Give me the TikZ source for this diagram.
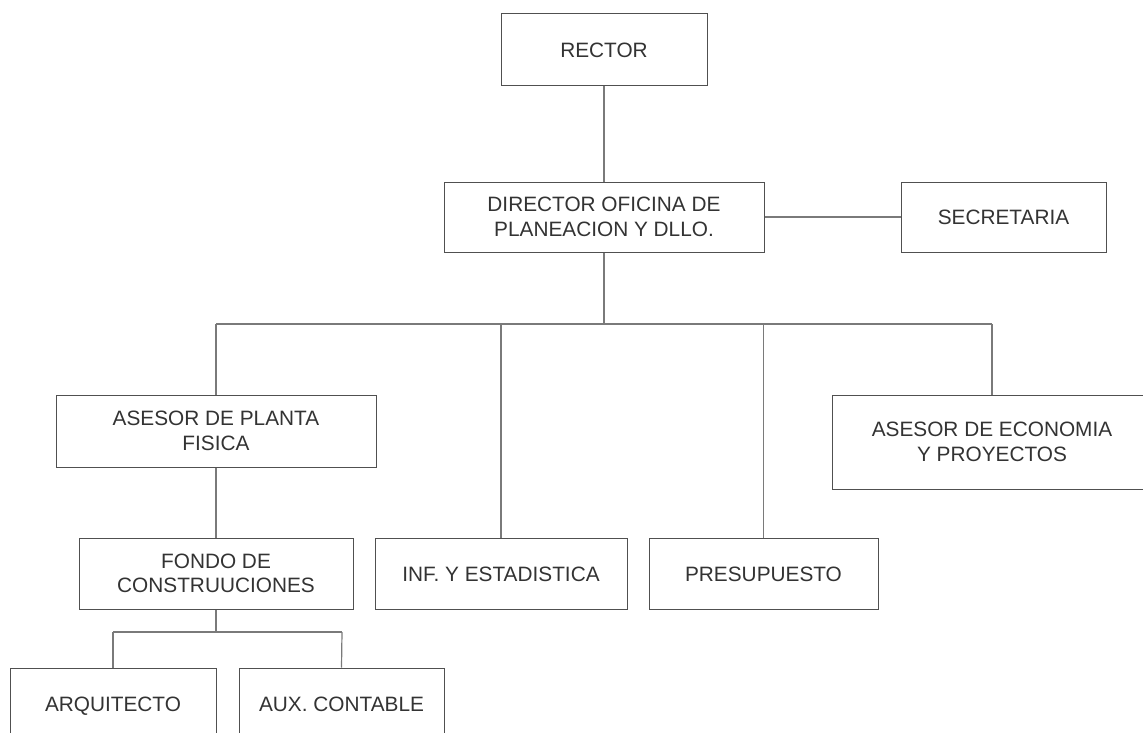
\documentclass[tikz,border=0pt]{standalone}
\usepackage{fontspec}
\setmainfont{Liberation Sans}
\definecolor{boxline}{HTML}{505050}
\definecolor{linkline}{HTML}{7A7A7A}
\definecolor{labeltext}{HTML}{333333}
\begin{document}
\begin{tikzpicture}[x=1pt,y=-1pt,
  unit/.style={draw=boxline, line width=1pt, fill=white, inner sep=0pt,
    align=center, text=labeltext, font=\fontsize{20.8}{24.5}\selectfont},
  oneline/.style={text height=15pt, text depth=0pt},
  link/.style={draw=linkline, line width=1.2pt}]
\useasboundingbox (0,0) rectangle (1143,733);
\fill[white] (0,0) rectangle (1143,733);

% boxes
\node[unit, oneline, minimum width=206pt, minimum height=72pt] (rector) at (604,50) {RECTOR};
\node[unit, minimum width=320pt, minimum height=70pt] (dir) at (604,217) {DIRECTOR OFICINA DE\\PLANEACION Y DLLO.};
\node[unit, oneline, minimum width=205pt, minimum height=70pt] (sec) at (1003.5,217) {SECRETARIA};
\node[unit, minimum width=320pt, minimum height=72pt] (plan) at (216,431) {ASESOR DE PLANTA\\FISICA};
\node[unit, minimum width=320pt, minimum height=94pt] (eco) at (992,442) {ASESOR DE ECONOMIA\\Y PROYECTOS};
\node[unit, minimum width=274pt, minimum height=71pt] (fondo) at (216,573.5) {FONDO DE\\CONSTRUUCIONES};
\node[unit, oneline, minimum width=252pt, minimum height=71pt] (inf) at (501,573.5) {INF. Y ESTADISTICA};
\node[unit, oneline, minimum width=229pt, minimum height=71pt] (pres) at (763.5,573.5) {PRESUPUESTO};
\node[unit, oneline, minimum width=206pt, minimum height=72pt] (arq) at (113,704) {ARQUITECTO};
\node[unit, oneline, minimum width=205pt, minimum height=72pt] (aux) at (341.5,704) {AUX. CONTABLE};

% bus lines
\coordinate (busL) at (216,324);
\coordinate (busR) at (992,324);
\coordinate (subL) at (113,632);
\coordinate (subR) at (342,632);

% connectors
\draw[link] (rector.south) -- (dir.north);
\draw[link] (dir.east) -- (sec.west);
\draw[link] (dir.south) -- (dir.south |- busL);
\draw[link] (busL) -- (busR);
\draw[link] (busL) -- (plan.north);
\draw[link] (inf.north |- busL) -- (inf.north);
\draw[link] (pres.north |- busL) -- (pres.north);
\draw[link] (busR) -- (eco.north);
\draw[link] (plan.south) -- (fondo.north);
\draw[link] (fondo.south) -- (fondo.south |- subL);
\draw[link] (subL) -- (subR);
\draw[link] (subL) -- (arq.north);
\draw[link] (subR) -- (aux.north);
\end{tikzpicture}
\end{document}
